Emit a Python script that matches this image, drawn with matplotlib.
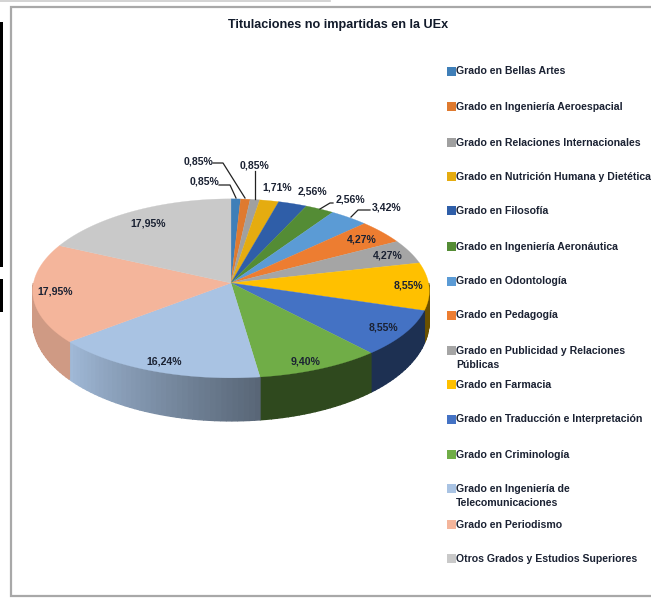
import numpy as np
import matplotlib
matplotlib.use("Agg")
import matplotlib.pyplot as plt
from matplotlib.patches import Rectangle

title = "Titulaciones no impartidas en la UEx"
categories = ["Grado en Bellas Artes", "Grado en Ingeniería Aeroespacial",
              "Grado en Relaciones Internacionales", "Grado en Nutrición Humana y Dietética",
              "Grado en Filosofía", "Grado en Ingeniería Aeronáutica", "Grado en Odontología",
              "Grado en Pedagogía", "Grado en Publicidad y Relaciones\nPúblicas",
              "Grado en Farmacia", "Grado en Traducción e Interpretación",
              "Grado en Criminología", "Grado en Ingeniería de\nTelecomunicaciones",
              "Grado en Periodismo", "Otros Grados y Estudios Superiores"]
values = [0.85, 0.85, 0.85, 1.71, 2.56, 2.56, 3.42, 4.27, 4.27, 8.55, 8.55, 9.40, 16.24, 17.95, 17.95]
colors = ["#3f7fb8", "#df7a2f", "#a0a0a0", "#e5ac10", "#2f5ea8", "#548c35", "#5b9bd5", "#ed7d31",
          "#a5a5a5", "#ffc000", "#4472c4", "#70ad47", "#a9c3e3", "#f4b59b", "#c9c9c9"]

label_xy = [(204, 181), (198, 162), (255, 166), (277, 187), (312, 191), (350, 199), (387, 208), (362, 240),
            (388, 256), (408, 286), (383, 327), (306, 361), (164, 361), (55, 292), (148, 223)]
leaders = {0: [(219, 185), (230, 185), (236, 198)], 1: [(213, 163), (223, 163), (245, 198)],
           2: [(255, 171), (255, 199)], 5: [(333, 203), (330, 203), (320, 209)],
           6: [(370, 210), (358, 210), (351, 217)]}
legend_y = [71, 106, 142, 176, 210, 246, 281, 315, 350, 384, 419, 454, 488, 524, 558]

W, H = 651, 603
fig = plt.figure(figsize=(W / 100, H / 100), dpi=100)
ax = fig.add_axes([0, 0, 1, 1])
ax.set_xlim(0, W)
ax.set_ylim(H, 0)
ax.axis("off")
font = "Liberation Sans"

# frame and scanned edges
ax.add_patch(Rectangle((11, 7), 660, 589, fc="white", ec="#a8a8a8", lw=1.6))
ax.plot([0, 330], [0.5, 0.5], color="#cccccc", lw=1.2)
ax.add_patch(Rectangle((0, 22), 3, 245, fc="black", ec="none"))
ax.add_patch(Rectangle((0, 279), 3, 33, fc="black", ec="none"))

cx, cy, rx, ry = 231, 283, 197.5, 89.5


def ellipse(a):
    c = np.cos(a)
    x = cx + rx * np.sin(a) * (1 - 0.09 * c)
    y = cy - ry * c * (1 - 0.06 * c)
    return x, y


def wall(a):
    return 28 + 15 * (-np.cos(a))


def shade(deg):
    return np.interp(deg, [90, 172.1, 172.3, 230.5, 230.8, 270], [0.42, 0.42, 0.52, 0.95, 0.85, 0.85])


def rgb(c, f):
    return tuple(np.array(matplotlib.colors.to_rgb(c)) * f)


cum = np.cumsum([0] + values) / sum(values) * 2 * np.pi

# side wall, in narrow strips so that the shading runs smoothly
for i, col in enumerate(colors):
    a0, a1 = max(cum[i], np.pi / 2), min(cum[i + 1], 1.5 * np.pi)
    if a1 <= a0:
        continue
    edges = np.linspace(a0, a1, max(2, int((a1 - a0) * 40)))
    for s0, s1 in zip(edges[:-1], edges[1:]):
        t = np.linspace(s0, s1, 4)
        x, y = ellipse(t)
        c = rgb(col, shade(np.degrees((s0 + s1) / 2)))
        ax.fill(np.r_[x, x[::-1]], np.r_[y, (y + wall(t))[::-1]], fc=c, ec=c, lw=1.0, zorder=2)

# top surface
for i, col in enumerate(colors):
    t = np.linspace(cum[i], cum[i + 1], 100)
    x, y = ellipse(t)
    ax.fill(np.r_[cx, x], np.r_[cy, y], fc=col, ec=col, lw=0.2, zorder=3)

ink = "#1b2233"
for (x, y), v in zip(label_xy, values):
    ax.text(x, y, f"{v:.2f}%".replace(".", ","), ha="center", va="center", fontsize=7.6,
            fontweight="bold", family=font, color=ink, zorder=5)
for pts in leaders.values():
    ax.plot(*zip(*pts), color="#222222", lw=0.9, zorder=4)

ax.text(338, 25, title, ha="center", va="center", fontsize=9.1, fontweight="bold", family=font, color="#111a2a")

for name, col, y in zip(categories, colors, legend_y):
    ax.add_patch(Rectangle((447, y - 4), 9, 9, fc=col, ec="none"))
    ax.text(456, y - 4.5, name, ha="left", va="top", fontsize=7.55, fontweight="bold", family=font,
            color=ink, linespacing=1.55)

fig.savefig("out.png", dpi=100)
